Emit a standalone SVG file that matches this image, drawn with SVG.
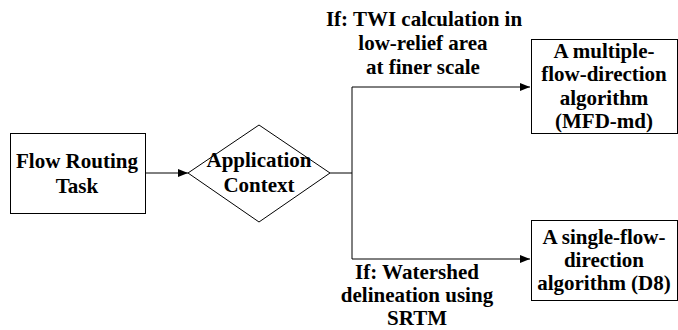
<svg xmlns="http://www.w3.org/2000/svg" width="678" height="330" viewBox="0 0 678 330">
<style>
.n{fill:#fff;stroke:#000;stroke-width:1}
.t{font-family:'Liberation Serif','Times New Roman',serif;font-weight:bold;font-size:21px;fill:#000;text-anchor:middle}
.c{fill:none;stroke:#000;stroke-width:1}
</style>
<defs>
<marker id="ah" viewBox="0 0 10 8" refX="10" refY="4" markerWidth="10" markerHeight="8" markerUnits="userSpaceOnUse" orient="auto">
<path d="M0,0 L10,4 L0,8 Z" fill="#000"/>
</marker>
</defs>
<g id="connectors">
<line class="c" x1="145" y1="173" x2="188" y2="173" marker-end="url(#ah)"/>
<polyline class="c" points="330,173 352,173 352,87 530,87" marker-end="url(#ah)"/>
<polyline class="c" points="352,173 352,259 530,259" marker-end="url(#ah)"/>
</g>
<g id="task">
<rect class="n" x="10.5" y="133.5" width="135" height="80"/>
<text class="t" x="77" y="168">Flow Routing</text>
<text class="t" x="77" y="193">Task</text>
</g>
<g id="context">
<polygon class="n" points="188,173 259,125 330,173 259,222"/>
<text class="t" x="259" y="167">Application</text>
<text class="t" x="259" y="192">Context</text>
</g>
<g id="label-top">
<text class="t" x="424" y="26">If: TWI calculation in</text>
<text class="t" x="423" y="50">low-relief area</text>
<text class="t" x="423" y="74">at finer scale</text>
</g>
<g id="mfd">
<rect class="n" x="531.5" y="39.5" width="146" height="94"/>
<text class="t" x="604" y="58">A multiple-</text>
<text class="t" x="604" y="81">flow-direction</text>
<text class="t" x="604" y="105">algorithm</text>
<text class="t" x="604" y="128">(MFD-md)</text>
</g>
<g id="d8">
<rect class="n" x="531.5" y="220.5" width="146" height="80"/>
<text class="t" x="604" y="244">A single-flow-</text>
<text class="t" x="604" y="267">direction</text>
<text class="t" x="604" y="290">algorithm (D8)</text>
</g>
<g id="label-bottom">
<text class="t" x="417" y="279">If: Watershed</text>
<text class="t" x="417" y="302">delineation using</text>
<text class="t" x="417" y="325">SRTM</text>
</g>
</svg>
